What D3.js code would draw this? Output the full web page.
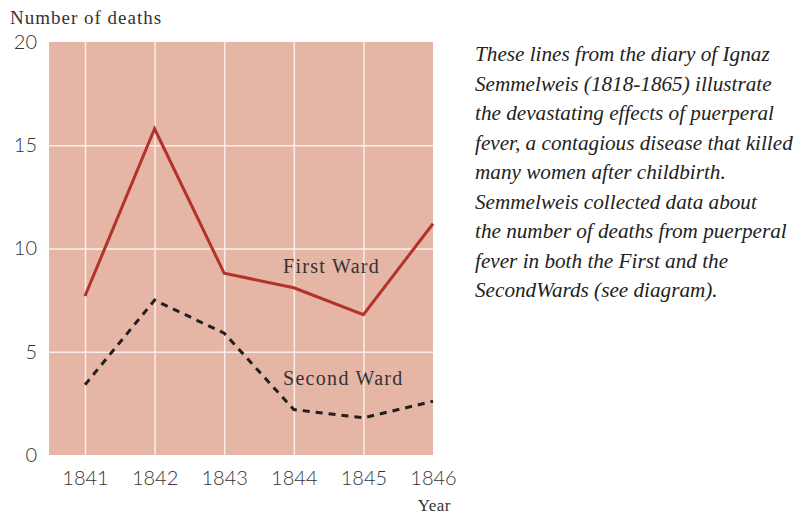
<!DOCTYPE html>
<html>
<head>
<meta charset="utf-8">
<script src="https://d3js.org/d3.v7.min.js"></script>
<style>
  body { margin: 0; background: #fff; }
  .tick text { font-family: Lato, "Open Sans", sans-serif; font-weight: 300; font-size: 20px; fill: #333; }
  .grid line { stroke: #fbeee8; stroke-width: 1.5; }
  .grid .domain { display: none; }
  .serif { font-family: "Liberation Serif", "DejaVu Serif", serif; fill: #333; }
</style>
</head>
<body>
<div id="chart"></div>
<script>
// dados
var years = [1841, 1842, 1843, 1844, 1845, 1846];
var firstWard = [7.7, 15.8, 8.8, 8.1, 6.8, 11.2];
var secondWard = [3.4, 7.5, 5.9, 2.2, 1.8, 2.6];
var yTicks = [0, 5, 10, 15, 20];
var texto = [
  "These lines from the diary of Ignaz",
  "Semmelweis (1818-1865) illustrate",
  "the devastating effects of puerperal",
  "fever, a contagious disease that killed",
  "many women after childbirth.",
  "Semmelweis collected data about",
  "the number of deaths from puerperal",
  "fever in both the First and the",
  "SecondWards (see diagram)."
];

var larguraSVG = 797, alturaSVG = 515;
var plot = {left: 49, right: 433, top: 42, bottom: 455};

var svg = d3.select('#chart').append('svg')
    .attr('width', larguraSVG)
    .attr('height', alturaSVG);

var x = d3.scaleLinear()
    .domain([1841, 1846])
    .range([85, plot.right]);
var y = d3.scaleLinear()
    .domain([0, 20])
    .range([plot.bottom, plot.top]);

// fundo da area do grafico
svg.append('rect')
    .attr('x', plot.left)
    .attr('y', plot.top)
    .attr('width', plot.right - plot.left)
    .attr('height', plot.bottom - plot.top)
    .attr('fill', '#e5b6a6');

// grade
svg.append('g')
    .attr('class', 'grid')
    .attr('transform', 'translate(0,' + plot.bottom + ')')
    .call(d3.axisBottom(x).tickValues(years.slice(0, 5)).tickSize(-(plot.bottom - plot.top)).tickFormat(''));
svg.append('g')
    .attr('class', 'grid')
    .attr('transform', 'translate(' + plot.left + ',0)')
    .call(d3.axisLeft(y).tickValues([5, 10, 15]).tickSize(-(plot.right - plot.left)).tickFormat(''));

// eixos (so os rotulos)
var eixoY = svg.append('g')
    .attr('transform', 'translate(' + plot.left + ',0)')
    .call(d3.axisLeft(y).tickValues(yTicks).tickSize(0).tickPadding(12));
eixoY.select('.domain').remove();

var eixoX = svg.append('g')
    .attr('transform', 'translate(0,' + plot.bottom + ')')
    .call(d3.axisBottom(x).tickValues(years).tickFormat(d3.format('d')).tickSize(0).tickPadding(16));
eixoX.select('.domain').remove();

// linhas
var linha = d3.line()
    .x(function(d, i) { return x(years[i]); })
    .y(function(d) { return y(d); });

svg.append('path')
    .datum(secondWard)
    .attr('d', linha)
    .attr('fill', 'none')
    .attr('stroke', '#231f1f')
    .attr('stroke-width', 3)
    .attr('stroke-dasharray', '7,6');

svg.append('path')
    .datum(firstWard)
    .attr('d', linha)
    .attr('fill', 'none')
    .attr('stroke', '#b3322a')
    .attr('stroke-width', 3)
    .attr('stroke-linejoin', 'miter');

// rotulos das series
svg.append('text').attr('class', 'serif')
    .attr('x', 283).attr('y', 273)
    .style('font-size', '20px')
    .style('letter-spacing', '1.3px')
    .text('First Ward');
svg.append('text').attr('class', 'serif')
    .attr('x', 283).attr('y', 385)
    .style('font-size', '20px')
    .style('letter-spacing', '1.3px')
    .text('Second Ward');

// titulos dos eixos
svg.append('text').attr('class', 'serif')
    .attr('x', 10).attr('y', 24)
    .style('font-size', '19px')
    .style('letter-spacing', '1px')
    .text('Number of deaths');
svg.append('text').attr('class', 'serif')
    .attr('x', 451).attr('y', 511)
    .attr('text-anchor', 'end')
    .style('font-size', '17px')
    .style('letter-spacing', '0.5px')
    .text('Year');

// paragrafo em italico
var linhas = svg.append('g').selectAll('text')
    .data(texto)
    .enter()
    .append('text')
      .attr('class', 'serif')
      .attr('x', 475)
      .attr('y', function(d, i) { return 61 + i * 29.5; })
      .style('font-size', '21px')
      .style('font-style', 'italic')
      .style('fill', '#222')
      .text(function(d) { return d; });

// ajusta o tamanho para a linha mais larga ter ~318px
var maior = d3.max(linhas.nodes(), function(n) { return n.getComputedTextLength(); });
linhas.style('font-size', (21 * 318 / maior) + 'px');
</script>
</body>
</html>
